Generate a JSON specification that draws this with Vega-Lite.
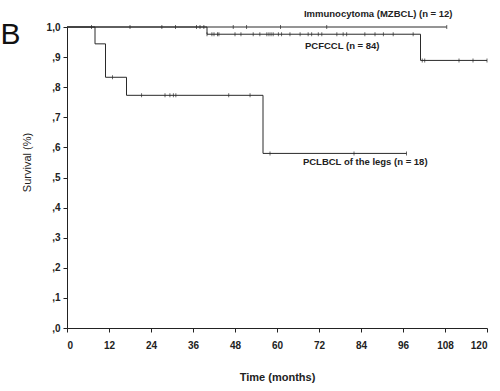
{
  "$schema": "https://vega.github.io/schema/vega-lite/v6.json",
  "width": 420,
  "height": 301,
  "autosize": {"type": "none"},
  "padding": {"left": 67, "top": 27, "right": 13, "bottom": 63},
  "background": "white",
  "config": {
    "view": {"stroke": null},
    "font": "Liberation Sans"
  },
  "datasets": {
    "curves": [
      {"group": "Immunocytoma", "t": 0, "s": 1.0},
      {"group": "Immunocytoma", "t": 108.5, "s": 1.0},
      {"group": "PCFCCL", "t": 0, "s": 1.0},
      {"group": "PCFCCL", "t": 40, "s": 0.976},
      {"group": "PCFCCL", "t": 101, "s": 0.889},
      {"group": "PCFCCL", "t": 120, "s": 0.889},
      {"group": "PCLBCL", "t": 0, "s": 1.0},
      {"group": "PCLBCL", "t": 8, "s": 0.944},
      {"group": "PCLBCL", "t": 11, "s": 0.833},
      {"group": "PCLBCL", "t": 17, "s": 0.773},
      {"group": "PCLBCL", "t": 56, "s": 0.58},
      {"group": "PCLBCL", "t": 97, "s": 0.58}
    ],
    "censored": [
      {"t": 7, "s": 1.0}, {"t": 18, "s": 1.0}, {"t": 27.1, "s": 1.0}, {"t": 31, "s": 1.0},
      {"t": 37, "s": 1.0}, {"t": 38, "s": 1.0}, {"t": 39.1, "s": 1.0},
      {"t": 47.5, "s": 1.0}, {"t": 51.3, "s": 1.0}, {"t": 61, "s": 1.0}, {"t": 74.2, "s": 1.0},
      {"t": 108.5, "s": 1.0},
      {"t": 40, "s": 0.976}, {"t": 41.4, "s": 0.976}, {"t": 42, "s": 0.976}, {"t": 43, "s": 0.976},
      {"t": 43.4, "s": 0.976}, {"t": 48, "s": 0.976}, {"t": 49.7, "s": 0.976}, {"t": 53.2, "s": 0.976},
      {"t": 55.1, "s": 0.976}, {"t": 57.1, "s": 0.976}, {"t": 57.7, "s": 0.976}, {"t": 58.3, "s": 0.976},
      {"t": 58.9, "s": 0.976}, {"t": 60.4, "s": 0.976}, {"t": 61.3, "s": 0.976}, {"t": 63.7, "s": 0.976},
      {"t": 66.6, "s": 0.976}, {"t": 68.9, "s": 0.976}, {"t": 69.9, "s": 0.976}, {"t": 71.8, "s": 0.976},
      {"t": 72.8, "s": 0.976}, {"t": 77.1, "s": 0.976}, {"t": 78.9, "s": 0.976}, {"t": 79.9, "s": 0.976},
      {"t": 85.1, "s": 0.976}, {"t": 88, "s": 0.976}, {"t": 90.4, "s": 0.976}, {"t": 93.2, "s": 0.976},
      {"t": 98.9, "s": 0.976},
      {"t": 101.5, "s": 0.889}, {"t": 102.2, "s": 0.889}, {"t": 112, "s": 0.889}, {"t": 116, "s": 0.889},
      {"t": 120, "s": 0.889},
      {"t": 13, "s": 0.833},
      {"t": 21.3, "s": 0.773}, {"t": 28, "s": 0.773}, {"t": 29.4, "s": 0.773}, {"t": 30.4, "s": 0.773},
      {"t": 31.1, "s": 0.773}, {"t": 46.2, "s": 0.773}, {"t": 52.3, "s": 0.773},
      {"t": 58, "s": 0.58}, {"t": 82, "s": 0.58}, {"t": 97, "s": 0.58}
    ],
    "labels": [
      {"t": 67.7, "s": 1.043, "label": "Immunocytoma (MZBCL) (n = 12)"},
      {"t": 68, "s": 0.937, "label": "PCFCCL   (n = 84)"},
      {"t": 67.4, "s": 0.551, "label": "PCLBCL of the legs  (n = 18)"}
    ],
    "panel": [
      {"t": -19, "s": 0.975, "label": "B"}
    ]
  },
  "encoding": {
    "x": {
      "field": "t", "type": "quantitative",
      "scale": {"domain": [0, 120], "nice": false},
      "axis": {
        "values": [0, 12, 24, 36, 48, 60, 72, 84, 96, 108, 120],
        "title": "Time (months)",
        "titleFontSize": 11, "titleFontWeight": "bold", "titleColor": "#222",
        "titlePadding": 21,
        "labelFontSize": 10, "labelFontWeight": "bold", "labelColor": "#222",
        "labelPadding": 8, "labelOverlap": false,
        "grid": false, "tickSize": 4, "domainColor": "#222", "tickColor": "#222"
      }
    },
    "y": {
      "field": "s", "type": "quantitative",
      "scale": {"domain": [0, 1], "nice": false},
      "axis": {
        "values": [0, 0.1, 0.2, 0.3, 0.4, 0.5, 0.6, 0.7, 0.8, 0.9, 1],
        "labelExpr": "datum.value == 1 ? '1,0' : ',' + round(datum.value * 10)",
        "labelOverlap": false,
        "title": "Survival (%)",
        "titleFontSize": 11, "titleFontWeight": "normal", "titleColor": "#222",
        "titlePadding": 14, "titleY": 135,
        "labelFontSize": 10, "labelFontWeight": "bold", "labelColor": "#222",
        "labelPadding": 3,
        "grid": false, "tickSize": 4, "domainColor": "#222", "tickColor": "#222"
      }
    }
  },
  "layer": [
    {
      "data": {"name": "curves"},
      "mark": {"type": "line", "interpolate": "step-after", "color": "#2a2a2a", "strokeWidth": 1},
      "encoding": {
        "detail": {"field": "group"}
      }
    },
    {
      "data": {"name": "censored"},
      "mark": {"type": "tick", "orient": "vertical", "size": 4, "thickness": 1, "color": "#2a2a2a"},
      "encoding": {}
    },
    {
      "data": {"name": "labels"},
      "mark": {"type": "text", "align": "left", "baseline": "middle", "fontWeight": "bold", "fontSize": 9.5, "color": "#222", "clip": false},
      "encoding": {
        "text": {"field": "label"}
      }
    },
    {
      "data": {"name": "panel"},
      "mark": {"type": "text", "align": "left", "baseline": "middle", "fontWeight": "normal", "fontSize": 30, "color": "#111", "clip": false},
      "encoding": {
        "text": {"field": "label"}
      }
    }
  ]
}
